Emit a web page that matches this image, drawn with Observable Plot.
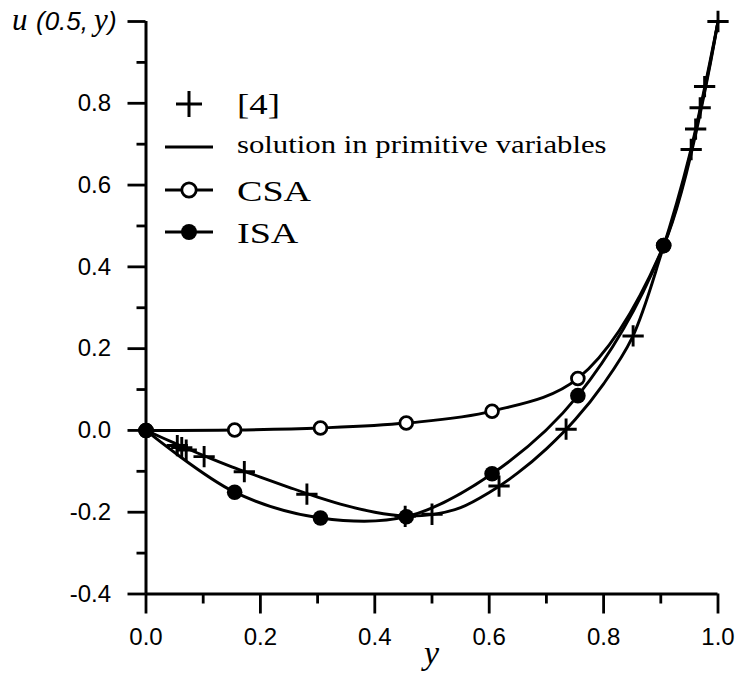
<!DOCTYPE html>
<html>
<head>
<meta charset="utf-8">
<script src="https://cdn.jsdelivr.net/npm/d3@7"></script>
<script src="https://cdn.jsdelivr.net/npm/@observablehq/plot@0.6"></script>
<style>
  body { margin: 0; background: #fff; }
  #chart svg { display: block; }
</style>
</head>
<body>
<div id="chart"></div>
<script>
// Reference solution [4]: u(0.5, y) along the vertical centreline
const refY = [0.0547, 0.0625, 0.0703, 0.1016, 0.1719, 0.2813, 0.4531, 0.5, 0.6172, 0.7344, 0.8516, 0.9531, 0.9609, 0.9688, 0.9766, 1.0];
const refU = [-0.037, -0.042, -0.048, -0.064, -0.101, -0.156, -0.210, -0.205, -0.136, 0.003, 0.231, 0.687, 0.737, 0.789, 0.841, 1.0];

// Solution in primitive variables (sampled along the curve)
const primY = [0, 0.05, 0.1, 0.15, 0.2, 0.25, 0.3, 0.35, 0.4, 0.45, 0.5, 0.55, 0.6, 0.65, 0.7, 0.75, 0.8, 0.85, 0.9, 0.95, 1.0];
const primU = [0, -0.031, -0.061, -0.089, -0.114, -0.139, -0.163, -0.184, -0.200, -0.209, -0.206, -0.189, -0.152, -0.104, -0.045, 0.026, 0.114, 0.227, 0.428, 0.672, 1.0];

// CSA and ISA nodal values
const nodeY = [0, 0.155, 0.305, 0.455, 0.605, 0.755, 0.905];
const csaU  = [0, 0.001, 0.006, 0.018, 0.047, 0.127, 0.452];
const isaU  = [0, -0.151, -0.214, -0.211, -0.106, 0.085, 0.452];

// Moving lid: u = 1 at y = 1
const lidY = 1.0;
const lidU = 1.0;

// Axis ticks
const xMajor = [0, 0.2, 0.4, 0.6, 0.8, 1.0];
const xMinor = [0.1, 0.3, 0.5, 0.7, 0.9];
const yMajor = [-0.4, -0.2, 0, 0.2, 0.4, 0.6, 0.8, 1.0];
const yMinor = [-0.3, -0.1, 0.1, 0.3, 0.5, 0.7, 0.9];

const xDomain = [0, 1];
const yDomain = [-0.4, 1];

const toRows = (ys, us) => ys.map((y, i) => ({y, u: us[i]}));
const refRows  = toRows(refY, refU);
const primRows = toRows(primY, primU);
const csaRows  = toRows(nodeY, csaU);
const isaRows  = toRows(nodeY, isaU);
const csaLine  = [...csaRows, {y: lidY, u: lidU}];
const isaLine  = [...isaRows, {y: lidY, u: lidU}];

const LW = 2.9;
const fmt = d => (d === 1 ? "" : d.toFixed(1));

const plot = Plot.plot({
  width: 738,
  height: 677,
  marginLeft: 145.5,
  marginRight: 20.5,
  marginTop: 21,
  marginBottom: 83.5,
  x: {domain: xDomain},
  y: {domain: yDomain},
  style: {fontFamily: "'Liberation Sans', Arial, sans-serif", fontSize: "24px", color: "#000", background: "#fff"},
  marks: [
    // axis lines
    Plot.ruleX([{x: xDomain[0], y1: yDomain[0], y2: yDomain[1]}], {x: "x", y1: "y1", y2: "y2", stroke: "#000", strokeWidth: 3}),
    Plot.ruleY([{y: yDomain[0], x1: xDomain[0], x2: xDomain[1]}], {y: "y", x1: "x1", x2: "x2", stroke: "#000", strokeWidth: 3}),
    // ticks
    Plot.axisY(yMajor, {anchor: "left", tickSize: 18, tickPadding: 17, tickFormat: fmt, fontSize: 24, strokeWidth: 2.8}),
    Plot.axisY(yMinor, {anchor: "left", tickSize: 9, tickFormat: () => "", strokeWidth: 2.8}),
    Plot.axisX(xMajor, {anchor: "bottom", tickSize: 20, tickPadding: 14, tickFormat: d => d.toFixed(1), fontSize: 24, strokeWidth: 2.8}),
    Plot.axisX(xMinor, {anchor: "bottom", tickSize: 10, tickFormat: () => "", strokeWidth: 2.8}),
    // curves
    Plot.line(primRows, {x: "y", y: "u", curve: "catmull-rom", stroke: "#000", strokeWidth: LW}),
    Plot.line(csaLine, {x: "y", y: "u", curve: "catmull-rom", stroke: "#000", strokeWidth: LW}),
    Plot.line(isaLine, {x: "y", y: "u", curve: "catmull-rom", stroke: "#000", strokeWidth: LW}),
    // markers
    Plot.dot(refRows, {x: "y", y: "u", symbol: "plus", r: 6.9, stroke: "#000", strokeWidth: 2.9}),
    Plot.dot(csaRows, {x: "y", y: "u", r: 6.4, fill: "#fff", stroke: "#000", strokeWidth: 2.8}),
    Plot.dot(isaRows, {x: "y", y: "u", r: 7.8, fill: "#000", stroke: "none"})
  ]
});

document.getElementById("chart").appendChild(plot);

// Axis titles and legend
const svg = d3.select(plot);
const sx = plot.scale("x");

const yTitle = svg.append("text")
  .attr("y", 30)
  .attr("text-anchor", "start")
  .attr("fill", "#000");
yTitle.append("tspan").attr("x", 12).attr("font-family", "'Liberation Serif', serif").attr("font-style", "italic").attr("font-size", 31).text("u");
yTitle.append("tspan").attr("x", 36).attr("font-family", "'Liberation Sans', sans-serif").attr("font-style", "italic").attr("font-size", 26).text("(0.5,");
yTitle.append("tspan").attr("x", 94).attr("font-family", "'Liberation Serif', serif").attr("font-style", "italic").attr("font-size", 31).text("y");
yTitle.append("tspan").attr("x", 108).attr("font-family", "'Liberation Sans', sans-serif").attr("font-style", "italic").attr("font-size", 26).text(")");

svg.append("text")
  .attr("x", sx.apply(0.5))
  .attr("y", 664)
  .attr("text-anchor", "middle")
  .attr("font-family", "'Liberation Serif', serif")
  .attr("font-style", "italic")
  .attr("font-size", 34)
  .attr("fill", "#000")
  .text("y");

const legend = svg.append("g").attr("stroke-linecap", "butt").attr("text-anchor", "start");
const items = [
  {kind: "plus", label: "[4]", cy: 104, size: 29, base: 114},
  {kind: "line", label: "solution in primitive variables", cy: 147, size: 24.2, base: 153},
  {kind: "open", label: "CSA", cy: 190, size: 30, base: 200.5},
  {kind: "filled", label: "ISA", cy: 232, size: 30, base: 243}
];
const symX = 189, lineX1 = 165, lineX2 = 213, textX = 237;
for (const it of items) {
  if (it.kind === "plus") {
    legend.append("path")
      .attr("d", `M${symX - 13},${it.cy}H${symX + 13}M${symX},${it.cy - 13}V${it.cy + 13}`)
      .attr("stroke", "#000").attr("stroke-width", 3).attr("fill", "none");
  } else {
    legend.append("line")
      .attr("x1", lineX1).attr("x2", lineX2).attr("y1", it.cy).attr("y2", it.cy)
      .attr("stroke", "#000").attr("stroke-width", LW);
    if (it.kind === "open") {
      legend.append("circle").attr("cx", symX).attr("cy", it.cy).attr("r", 7.2)
        .attr("fill", "#fff").attr("stroke", "#000").attr("stroke-width", 2.8);
    } else if (it.kind === "filled") {
      legend.append("circle").attr("cx", symX).attr("cy", it.cy).attr("r", 8)
        .attr("fill", "#000");
    }
  }
  legend.append("text")
    .attr("transform", `translate(${textX},${it.base}) scale(1.27,1)`)
    .attr("text-anchor", "start")
    .attr("font-family", "'Liberation Serif', 'Times New Roman', serif")
    .attr("font-size", it.size)
    .attr("fill", "#000")
    .text(it.label);
}
</script>
</body>
</html>
